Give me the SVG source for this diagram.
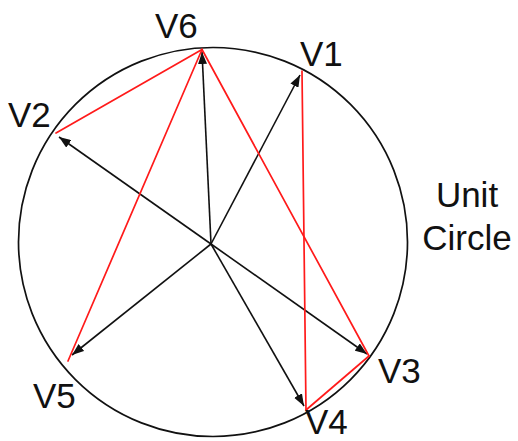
<svg xmlns="http://www.w3.org/2000/svg" width="518" height="441" viewBox="0 0 518 441">
  <style>
    .lbl { font-family: "Liberation Sans", Arial, sans-serif; font-size: 35px; fill: #111; }
    .vec { stroke: #111; stroke-width: 1.6; fill: none; marker-end: url(#ah); }
    .edge { stroke: #ff1a1a; stroke-width: 1.7; fill: none; stroke-linecap: round; }
    .circ { stroke: #111; stroke-width: 1.7; fill: none; }
  </style>
  <defs>
    <marker id="ah" markerUnits="userSpaceOnUse" markerWidth="13" markerHeight="9" refX="12" refY="4.5" orient="auto">
      <path d="M0,0 L12,4.5 L0,9 z" fill="#111"/>
    </marker>
  </defs>
  <rect width="518" height="441" fill="#fff"/>
  <g id="unit-circle">
    <circle class="circ" cx="213" cy="242" r="194.5"/>
    <text class="lbl" x="467" y="207" text-anchor="middle">Unit</text>
    <text class="lbl" x="467" y="250" text-anchor="middle">Circle</text>
  </g>
  <g id="connectors">
    <line class="vec" x1="211" y1="244" x2="202" y2="52"/>
    <line class="vec" x1="211" y1="244" x2="300" y2="75"/>
    <line class="vec" x1="211" y1="244" x2="59" y2="137"/>
    <line class="vec" x1="211" y1="244" x2="367" y2="354"/>
    <line class="vec" x1="211" y1="244" x2="304" y2="406"/>
    <line class="vec" x1="211" y1="244" x2="72" y2="355"/>
    <line class="edge" x1="56" y1="133" x2="202" y2="49.5"/>
    <line class="edge" x1="202" y1="49.5" x2="68" y2="361"/>
    <line class="edge" x1="202" y1="49.5" x2="369" y2="356"/>
    <line class="edge" x1="369" y1="356" x2="306" y2="410"/>
    <line class="edge" x1="306" y1="410" x2="302" y2="71"/>
  </g>
  <g id="V1"><text class="lbl" x="300" y="66">V1</text></g>
  <g id="V2"><text class="lbl" x="8" y="127">V2</text></g>
  <g id="V3"><text class="lbl" x="378" y="383">V3</text></g>
  <g id="V4"><text class="lbl" x="305" y="434">V4</text></g>
  <g id="V5"><text class="lbl" x="33" y="408">V5</text></g>
  <g id="V6"><text class="lbl" x="155" y="38">V6</text></g>
</svg>
